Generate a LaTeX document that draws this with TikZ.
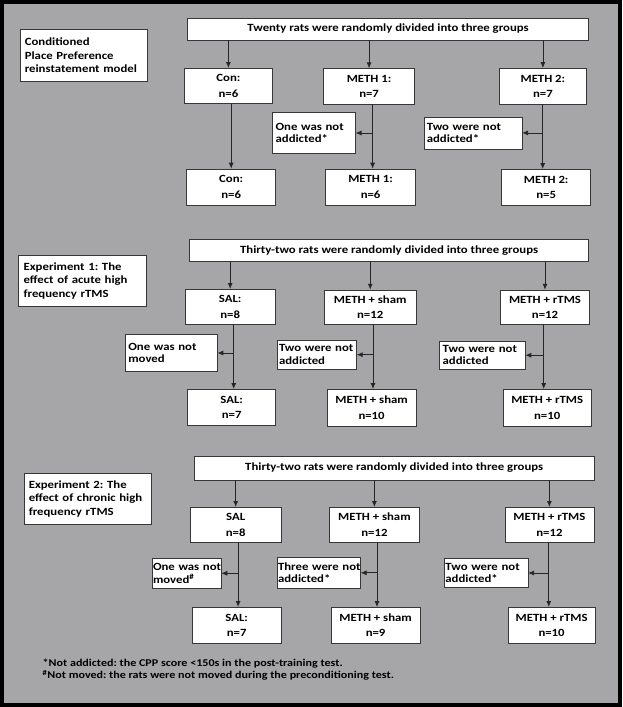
\documentclass[tikz,border=0pt]{standalone}
\usepackage{fontspec}
\setmainfont{Carlito}[FakeStretch=1.16]
\usetikzlibrary{arrows.meta}
\definecolor{bggray}{RGB}{166,166,168}
\definecolor{edgec}{RGB}{55,55,55}
\frenchspacing
\begin{document}
\begin{tikzpicture}[x=1pt,y=-1pt,
  grp/.style={draw=edgec, fill=white, line width=0.6pt, inner sep=0pt, align=center,
     font=\bfseries\fontsize{11}{15.5}\selectfont},
  head/.style={draw=edgec, fill=white, line width=0.6pt, inner sep=0pt, align=center,
     font=\bfseries\fontsize{11}{13}\selectfont},
  note/.style={draw=edgec, fill=white, line width=0.6pt, inner xsep=3pt, inner ysep=0pt,
     align=left, font=\bfseries\fontsize{11}{12.5}\selectfont},
  ttl/.style={draw=edgec, fill=white, line width=0.6pt, inner xsep=5pt, inner ysep=0pt,
     align=left, font=\bfseries\fontsize{11}{13.3}\selectfont},
  arr/.style={draw=black!85, line width=0.8pt, -{Latex[length=6pt,width=5pt]}},
  foot/.style={anchor=west, inner sep=0pt, font=\bfseries\fontsize{10.4}{12}\selectfont},
]
\useasboundingbox (0,0) rectangle (622,707);
\fill[black] (0,0) rectangle (622,707);
\fill[bggray] (4,4) rectangle (618,703);

% ---------- Section 1 ----------
\node[ttl, text width=117.8pt, minimum height=51.7pt] (t0) at (83.7,55.2)
  {\mbox{Conditioned}\\\mbox{Place Preference}\\\mbox{reinstatement model}};
\node[head, minimum width=400.8pt, minimum height=22pt] (top1) at (388.1,29)
  {Twenty rats were randomly divided into three groups};
\node[grp, minimum width=87.7pt, minimum height=35pt] (con1) at (228.4,85.8) {Con:\\n=6};
\node[grp, minimum width=91.3pt, minimum height=35.3pt] (m1a) at (369.1,86.3) {METH 1:\\n=7};
\node[grp, minimum width=87.3pt, minimum height=35.7pt] (m2a) at (542.9,86.2) {METH 2:\\n=7};
\node[note, text width=76.6pt, minimum height=40.6pt] (na1) at (313.9,133)
  {\mbox{One was not}\\addicted*};
\node[note, text width=92pt, minimum height=32pt] (na2) at (472.8,132.9)
  {\mbox{Two were not}\\addicted*};
\node[grp, minimum width=89pt, minimum height=36pt] (con2) at (231.2,187) {Con:\\n=6};
\node[grp, minimum width=89.8pt, minimum height=36pt] (m1b) at (370.6,187) {METH 1:\\n=6};
\node[grp, minimum width=89pt, minimum height=35.7pt] (m2b) at (546.2,187.2) {METH 2:\\n=5};

\draw[arr] (top1.south -| con1.north) -- (con1.north);
\draw[arr] (top1.south -| m1a.north) -- (m1a.north);
\draw[arr] (top1.south -| m2a.north) -- (m2a.north);
\draw[arr] (con1.south -| con2.north) -- (con2.north);
\draw[arr] ([xshift=2pt]m1a.south -| m1b.north) -- ([xshift=2pt]m1b.north);
\draw[arr] ([xshift=-3.5pt]m2a.south -| m2b.north) -- ([xshift=-3.5pt]m2b.north);
\draw[arr] ([xshift=2pt]na1.east -| m1b.north) -- (na1.east);
\draw[arr] ([xshift=-3.5pt]na2.east -| m2b.north) -- (na2.east);

% ---------- Section 2 ----------
\node[ttl, text width=118.1pt, minimum height=50.3pt] (t1) at (82.7,280.8)
  {\mbox{Experiment 1: The}\\\mbox{effect of acute high}\\\mbox{frequency rTMS}};
\node[head, minimum width=398.8pt, minimum height=22.7pt] (top2) at (389.1,250.3)
  {Thirty-two rats were randomly divided into three groups};
\node[grp, minimum width=89.7pt, minimum height=35pt] (sal1) at (230.2,306.8) {SAL:\\n=8};
\node[grp, minimum width=91.3pt, minimum height=34.3pt] (ms1) at (370.2,307.2) {METH + sham\\n=12};
\node[grp, minimum width=88.5pt, minimum height=34.3pt] (mr1) at (545,307.2) {METH + rTMS\\n=12};
\node[note, text width=85.7pt, minimum height=37.4pt] (nm1) at (171.2,353)
  {\mbox{One was not}\\moved};
\node[note, inner xsep=2pt, text width=75.3pt, minimum height=29.3pt] (nas1) at (316.7,354.7)
  {\mbox{Two were not}\\addicted};
\node[note, text width=79.3pt, minimum height=28.3pt] (nar1) at (482.3,355.2)
  {\mbox{Two were not}\\addicted};
\node[grp, minimum width=88.1pt, minimum height=35.7pt] (sal2) at (231.7,407.2) {SAL:\\n=7};
\node[grp, minimum width=88.5pt, minimum height=36.7pt] (ms2) at (371.6,407.7) {METH + sham\\n=10};
\node[grp, minimum width=88.1pt, minimum height=36.7pt] (mr2) at (547.2,407.7) {METH + rTMS\\n=10};

\draw[arr] (top2.south -| sal1.north) -- (sal1.north);
\draw[arr] (top2.south -| ms1.north) -- (ms1.north);
\draw[arr] (top2.south -| mr1.north) -- (mr1.north);
\draw[arr] ([xshift=2pt]sal1.south -| sal2.north) -- ([xshift=2pt]sal2.north);
\draw[arr] ([xshift=1.4pt]ms1.south -| ms2.north) -- ([xshift=1.4pt]ms2.north);
\draw[arr] ([xshift=-3.5pt]mr1.south -| mr2.north) -- ([xshift=-3.5pt]mr2.north);
\draw[arr] ([xshift=2pt]nm1.east -| sal2.north) -- (nm1.east);
\draw[arr] ([xshift=1.4pt]nas1.east -| ms2.north) -- (nas1.east);
\draw[arr] ([xshift=-3.5pt]nar1.east -| mr2.north) -- (nar1.east);

% ---------- Section 3 ----------
\node[ttl, text width=117pt, minimum height=50.7pt] (t2) at (87.3,498.7)
  {\mbox{Experiment 2: The}\\\mbox{effect of chronic high}\\\mbox{frequency rTMS}};
\node[head, minimum width=399.6pt, minimum height=24pt] (top3) at (394.2,468)
  {Thirty-two rats were randomly divided into three groups};
\node[grp, minimum width=90.5pt, minimum height=35pt] (sal3) at (235.7,524.8) {SAL\\n=8};
\node[grp, minimum width=90pt, minimum height=35pt] (ms3) at (374.4,524.8) {METH + sham\\n=12};
\node[grp, minimum width=89.2pt, minimum height=35pt] (mr3) at (549.4,524.8) {METH + rTMS\\n=12};
\node[note, inner xsep=1pt, text width=67pt, minimum height=30pt] (nm3) at (186.5,573.3)
  {\mbox{One was not}\\moved\textsuperscript{\#}};
\node[note, inner xsep=1pt, text width=81.3pt, minimum height=31pt] (nad3) at (318.7,572.8)
  {\mbox{Three were not}\\addicted*};
\node[note, inner xsep=1pt, text width=81.4pt, minimum height=29.4pt] (nad3b) at (486.1,573)
  {\mbox{Two were not}\\addicted*};
\node[grp, minimum width=88.5pt, minimum height=36pt] (sal4) at (236.7,625.3) {SAL:\\n=7};
\node[grp, minimum width=88.5pt, minimum height=36pt] (ms4) at (375.6,625.3) {METH + sham\\n=9};
\node[grp, minimum width=87.3pt, minimum height=36pt] (mr4) at (551.6,625.3) {METH + rTMS\\n=10};

\draw[arr] (top3.south -| sal3.north) -- (sal3.north);
\draw[arr] (top3.south -| ms3.north) -- (ms3.north);
\draw[arr] (top3.south -| mr3.north) -- (mr3.north);
\draw[arr] ([xshift=1.4pt]sal3.south -| sal4.north) -- ([xshift=1.4pt]sal4.north);
\draw[arr] ([xshift=1.4pt]ms3.south -| ms4.north) -- ([xshift=1.4pt]ms4.north);
\draw[arr] ([xshift=-2.8pt]mr3.south -| mr4.north) -- ([xshift=-2.8pt]mr4.north);
\draw[arr] ([xshift=1.4pt]nm3.east -| sal4.north) -- (nm3.east);
\draw[arr] ([xshift=1.4pt]nad3.east -| ms4.north) -- (nad3.east);
\draw[arr] ([xshift=-2.8pt]nad3b.east -| mr4.north) -- (nad3b.east);

% ---------- Footnotes ----------
\node[foot] (fn1) at (42.5,663.3) {*Not addicted: the CPP score <150s in the post-training test.};
\node[foot] (fn2) at (42.5,675.5) {\textsuperscript{\#}Not moved: the rats were not moved during the preconditioning test.};
\end{tikzpicture}
\end{document}
